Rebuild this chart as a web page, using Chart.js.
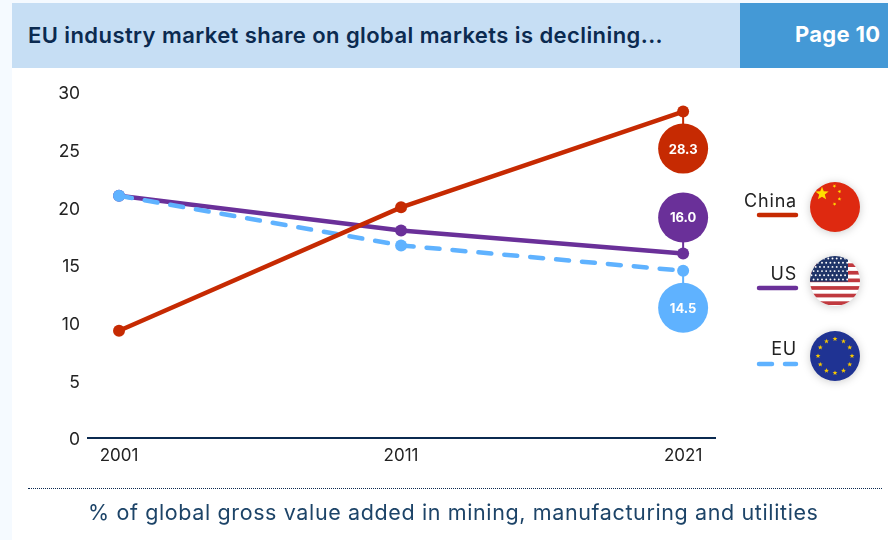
<!DOCTYPE html>
<html><head><meta charset="utf-8">
<script src="https://cdn.jsdelivr.net/npm/chart.js@4"></script>
<style>
html,body{margin:0;padding:0;background:#f5faff;width:888px;height:540px;overflow:hidden}
body{position:relative;font-family:Inter,"Open Sans",sans-serif}
#panel{position:absolute;left:12px;top:0;width:876px;height:540px;background:#fff}
#strip{position:absolute;left:0;top:0;width:888px;height:3px;background:#f5faff}
#head{position:absolute;left:12px;top:3px;width:728px;height:65px;background:#c6def4}
#page{position:absolute;left:740px;top:3px;width:148px;height:65px;background:#4499d6}
#title{position:absolute;left:28px;top:20px;font-size:22px;font-weight:600;color:#0b2a50;white-space:nowrap;line-height:30px;letter-spacing:.42px}
#pno{position:absolute;left:795px;top:19px;font-size:22px;font-weight:700;color:#fff;white-space:nowrap;line-height:30px;letter-spacing:.3px}
canvas{position:absolute;left:0;top:0}
#dots{position:absolute;left:28px;top:488px;width:854px;border-top:1px dotted #0b2a50;height:0}
#foot{position:absolute;left:88px;top:497px;width:728px;font-size:21.5px;color:#1d4468;white-space:nowrap;line-height:30px;letter-spacing:.62px}
.lg{position:absolute;right:91px;font-size:18px;color:#222;line-height:22px;white-space:nowrap;letter-spacing:.8px}
svg.k{position:absolute;left:755px;width:46px;height:8px}
svg.f{position:absolute;left:809px;width:52px;height:52px;overflow:visible;filter:drop-shadow(0 1px 4px rgba(0,0,0,.2))}
</style></head><body>
<div id="panel"></div><div id="strip"></div>
<div id="head"></div><div id="page"></div>
<div id="title">EU industry market share on global markets is declining...</div>
<div id="pno">Page 10</div>
<canvas id="c" width="888" height="540"></canvas>
<div id="dots"></div>
<div id="foot">% of global gross value added in mining, manufacturing and utilities</div>

<div class="lg" style="top:190px">China</div>
<svg class="k" style="top:211px" viewBox="0 0 46 8"><line x1="4" y1="4" x2="41" y2="4" stroke="#c62a02" stroke-width="4.5" stroke-linecap="round"/></svg>
<svg class="f" id="cn" style="top:181px" viewBox="0 0 52 52"></svg>

<div class="lg" style="top:263px">US</div>
<svg class="k" style="top:284px" viewBox="0 0 46 8"><line x1="4" y1="4" x2="41" y2="4" stroke="#6a3099" stroke-width="4.5" stroke-linecap="round"/></svg>
<svg class="f" id="us" style="top:255px" viewBox="0 0 52 52"></svg>

<div class="lg" style="top:338px">EU</div>
<svg class="k" style="top:360px" viewBox="0 0 46 8"><line x1="4" y1="4" x2="41" y2="4" stroke="#5fb2ff" stroke-width="4.5" stroke-linecap="round" stroke-dasharray="13 13"/></svg>
<svg class="f" id="eu" style="top:330px" viewBox="0 0 52 52"></svg>

<script>
const years = [2001, 2011, 2021];
const china = [9.3, 20, 28.3];
const us = [21, 18, 16];
const eu = [21, 16.7, 14.5];
const yTicks = [0, 5, 10, 15, 20, 25, 30];
const colors = {China:'#c62a02', US:'#6a3099', EU:'#5fb2ff'};
const calloutShift = {China:37, US:-36, EU:37};

const pts = a => a.map((v,i)=>({x:years[i],y:v}));
const ds = (label,data,order,dash)=>({label,data:pts(data),order,showLine:true,borderColor:colors[label],backgroundColor:colors[label],
  borderWidth:4.5,pointRadius:6,pointHoverRadius:6,pointBorderWidth:0,tension:0,borderCapStyle:'round',borderDash:dash||[]});

const callouts = {id:'callouts',afterDatasetsDraw(ch){
  const g=ch.ctx;
  ch.data.datasets.forEach((d,i)=>{
    const p=ch.getDatasetMeta(i).data[2], s=calloutShift[d.label], cy=p.y+s;
    g.save();
    g.strokeStyle=d.borderColor;g.lineWidth=2;
    g.beginPath();g.moveTo(p.x,p.y);g.lineTo(p.x,cy);g.stroke();
    g.fillStyle=d.borderColor;g.beginPath();g.arc(p.x,cy,25,0,Math.PI*2);g.fill();
    g.fillStyle='#fff';g.font='700 13px Inter';g.textAlign='center';g.textBaseline='middle';
    g.fillText(d.data[2].y.toFixed(1),p.x,cy+1);
    g.restore();
  });
}};

new Chart(document.getElementById('c'),{
  type:'scatter',
  data:{datasets:[ds('China',china,0),ds('US',us,2),ds('EU',eu,1,[13,13])]},
  plugins:[callouts],
  options:{
    responsive:false,animation:false,
    layout:{padding:{top:92,right:173,left:0,bottom:0}},
    plugins:{legend:{display:false},tooltip:{enabled:false},title:{display:false}},
    scales:{
      x:{type:'linear',min:1999.9,max:2022.13,
        afterBuildTicks(a){a.ticks=years.map(v=>({value:v}));},
        afterFit(a){a.height=102;},
        grid:{display:false,drawTicks:false},
        border:{display:true,color:'#0b2a50',width:2},
        ticks:{autoSkip:false,maxRotation:0,padding:8,color:'#222',font:{family:'Inter',size:17},callback:v=>String(v)}},
      y:{min:0,max:30,
        afterBuildTicks(a){a.ticks=yTicks.map(v=>({value:v}));},
        afterFit(a){a.width=88;},
        grid:{display:false,drawTicks:false},
        border:{display:false},
        ticks:{padding:8,labelOffset:2,color:'#222',font:{family:'Inter',size:17.5}}}
    }
  }
});

(function(){
  const star=(x,y,R,rot,fill)=>{let p='';for(let k=0;k<10;k++){const b=k*Math.PI/5+(rot||0),r=k%2?R*.42:R;p+=`${(x+r*Math.sin(b)).toFixed(2)},${(y-r*Math.cos(b)).toFixed(2)} `;}return `<polygon points="${p}" fill="${fill}"/>`;};
  let c='<circle cx="26" cy="26" r="25" fill="#de2910"/>';
  c+=star(13,12.7,7,0,'#ffde00');
  [[25.5,5,.5],[30.5,10.5,.9],[30.5,18,.2],[25.5,23,-.4]].forEach(a=>c+=star(a[0],a[1],2,a[2],'#ffde00'));
  document.getElementById('cn').innerHTML=c;

  let s='<defs><clipPath id="cu"><circle cx="26" cy="26" r="25"/></clipPath></defs><g clip-path="url(#cu)"><rect width="52" height="52" fill="#fff"/>';
  for(let i=0;i<6;i++) s+=`<rect x="0" y="${8.3+i*7.6}" width="52" height="3.7" fill="#c0393f"/>`;
  s+='<rect x="0" y="0" width="39" height="26.7" fill="#1f3468"/>';
  for(let r=0;r<6;r++)for(let c2=0;c2<9;c2++)
    s+=`<circle cx="${2.5+c2*4.2+(r%2?2.1:0)}" cy="${3.5+r*4.2}" r=".95" fill="#fff"/>`;
  s+='</g>';document.getElementById('us').innerHTML=s;

  let e='<circle cx="26" cy="26" r="25" fill="#1f3393"/>';
  for(let i=0;i<12;i++){const a=i*Math.PI/6;e+=star(26+17*Math.sin(a),26-17*Math.cos(a),2.6,0,'#f6c700');}
  document.getElementById('eu').innerHTML=e;
})();
</script>
</body></html>
